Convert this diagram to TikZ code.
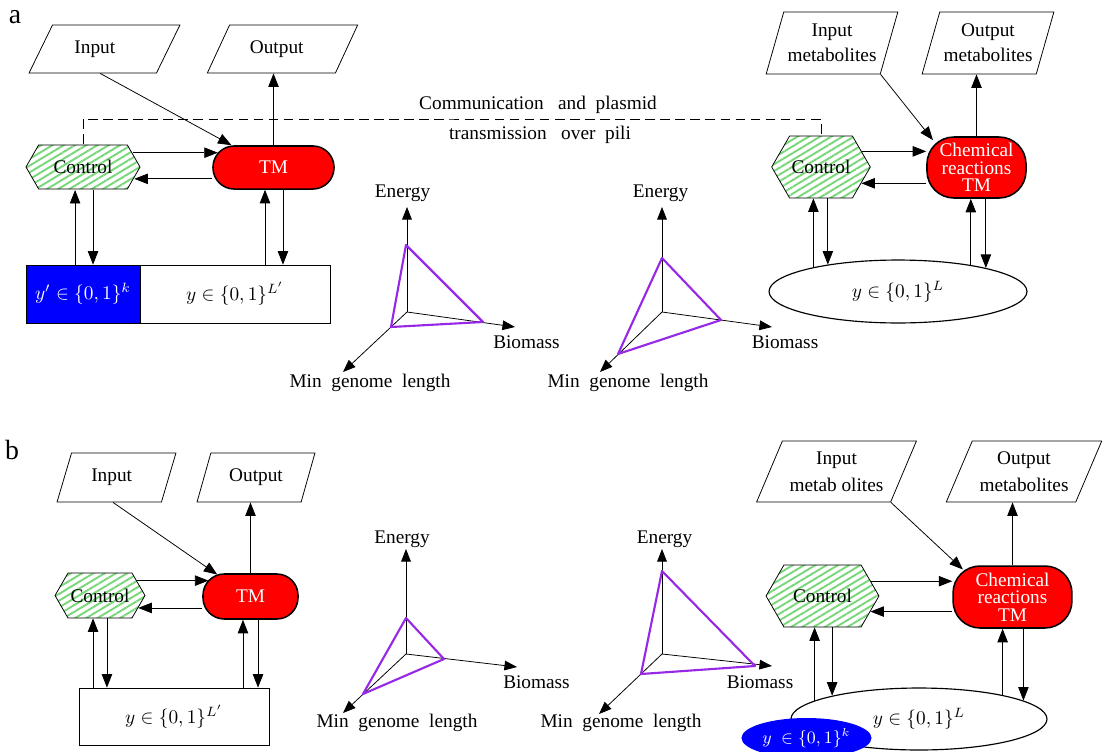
\documentclass[tikz,border=0pt]{standalone}
\usepackage[no-math]{fontspec}
\setmainfont{Liberation Serif}
\usetikzlibrary{shapes.geometric,shapes.symbols,patterns.meta,arrows.meta}
\definecolor{hatchgreen}{RGB}{120,215,120}
\definecolor{tripurple}{RGB}{150,40,230}
\pgfdeclarelayer{edgelayer}
\pgfdeclarelayer{nodelayer}
\pgfsetlayers{edgelayer,nodelayer,main}
\tikzset{font=\normalsize}
\tikzstyle{none}=[inner sep=0pt]
\tikzstyle{txt}=[inner sep=1pt]
\tikzstyle{panel}=[inner sep=0pt,font=\Large]
\tikzstyle{io}=[draw,trapezium,trapezium stretches=true,inner sep=1pt,align=center]
\tikzstyle{ctrl}=[draw,signal,signal to=east and west,signal pointer angle=120,inner sep=1pt,pattern={Lines[angle=31,distance=3pt,line width=1pt]},pattern color=hatchgreen]
\tikzstyle{tm}=[draw,thick,rectangle,rounded corners=11pt,fill=red,text=white,align=center,inner sep=1pt]
\tikzstyle{tape}=[draw,rectangle,inner sep=1pt]
\tikzstyle{genome}=[draw,semithick,ellipse,inner sep=1pt]
\tikzstyle{flow}=[-{Triangle[length=7pt,width=5.4pt]}]
\tikzstyle{ax}=[-{Triangle[length=6.5pt,width=5pt]}]
\tikzstyle{tri}=[draw=tripurple,line width=1.1pt,line join=round]
\tikzstyle{pili}=[dash pattern=on 5pt off 2.8pt]

\begin{document}
\begin{tikzpicture}[x=0.518pt,y=-0.518pt]
	\useasboundingbox (0,0) rectangle (1102,751);
	\begin{pgfonlayer}{nodelayer}
		% a: left cell
		\node [style=panel] (0) at (15,17) {a};
		\node [style=io, trapezium left angle=55, trapezium right angle=125, minimum width=78.2pt, minimum height=24.9pt] (1) at (104.5,49) {Input\hspace{10pt}};
		\node [style=io, trapezium left angle=55, trapezium right angle=125, minimum width=78.2pt, minimum height=24.9pt] (2) at (282.5,49) {Output\hspace{6pt}};
		\node [style=ctrl, minimum width=59.1pt, minimum height=22.8pt] (3) at (83,167) {Control};
		\node [style=tm, minimum width=62.7pt, minimum height=22.3pt] (4) at (273.5,167.5) {TM};
		\node [style=tape, fill=blue, text=white, minimum width=59.1pt, minimum height=30pt] (5) at (83,294) {$y'\in\{0,1\}^k$};
		\node [style=tape, minimum width=98.4pt, minimum height=30pt] (6) at (235,294) {$y\in\{0,1\}^{L'}$};
		\node [style=none] (7) at (450,119) {};
		\node [style=txt] (8) at (538,105) {Communication\ \ \ and\ \ plasmid};
		\node [style=txt] (9) at (540,135) {transmission\ \ \ over\ \ pili};
		% a: right cell
		\node [style=io, trapezium left angle=68, trapezium right angle=112, minimum width=68.4pt, minimum height=32.1pt] (10) at (832,43) {Input\\[1pt]metabolites};
		\node [style=io, trapezium left angle=68, trapezium right angle=112, minimum width=68.4pt, minimum height=32.1pt] (11) at (988,43) {Output\\[1pt]metabolites};
		\node [style=ctrl, minimum width=48.7pt, minimum height=32.1pt] (12) at (821,167) {Control};
		\node [style=tm, rounded corners=14pt, minimum width=51.3pt, minimum height=31.6pt] (13) at (976.5,167.5) {Chemical\\[-3pt]reactions\\[-3pt]TM};
		\node [style=genome, minimum width=133.6pt, minimum height=32.6pt] (14) at (898,291.5) {$y\in\{0,1\}^L$};
		% a: plots
		\node [style=none] (15) at (407,312) {};
		\node [style=none] (16) at (407,207) {};
		\node [style=none] (17) at (515,327) {};
		\node [style=none] (18) at (343,372) {};
		\node [style=txt] (19) at (402.5,193) {Energy};
		\node [style=txt] (20) at (526.5,342) {Biomass};
		\node [style=txt] (21) at (370,383) {Min\ \ genome\ \ length};
		\node [style=none] (22) at (406,245) {};
		\node [style=none] (23) at (483,322) {};
		\node [style=none] (24) at (391,327) {};
		\node [style=none] (25) at (662,312) {};
		\node [style=none] (26) at (662,207) {};
		\node [style=none] (27) at (772,327) {};
		\node [style=none] (28) at (600,372) {};
		\node [style=txt] (29) at (660.5,193) {Energy};
		\node [style=txt] (30) at (785,342) {Biomass};
		\node [style=txt] (31) at (628,383) {Min\ \ genome\ \ length};
		\node [style=none] (32) at (662,258) {};
		\node [style=none] (33) at (721,320) {};
		\node [style=none] (34) at (618,354) {};
		% b: left cell
		\node [style=panel] (35) at (12,450) {b};
		\node [style=io, trapezium left angle=67, trapezium right angle=113, minimum width=61.6pt, minimum height=25.4pt] (36) at (116.5,477.5) {Input\hspace{5pt}};
		\node [style=io, trapezium left angle=67, trapezium right angle=113, minimum width=61.1pt, minimum height=25.4pt] (37) at (256,477.5) {Output};
		\node [style=ctrl, minimum width=46.6pt, minimum height=23.3pt] (38) at (100,595.5) {Control};
		\node [style=tm, minimum width=49.2pt, minimum height=23.3pt] (39) at (250.5,596.5) {TM};
		\node [style=tape, minimum width=98.4pt, minimum height=29.5pt] (40) at (174,716.5) {$y\in\{0,1\}^{L'}$};
		% b: plots
		\node [style=none] (41) at (406,654) {};
		\node [style=none] (42) at (406,549) {};
		\node [style=none] (43) at (517,667) {};
		\node [style=none] (44) at (343,713) {};
		\node [style=txt] (45) at (402,539) {Energy};
		\node [style=txt] (46) at (536.5,682) {Biomass};
		\node [style=txt] (47) at (397,723) {Min\ \ genome\ \ length};
		\node [style=none] (48) at (406,618) {};
		\node [style=none] (49) at (444,659) {};
		\node [style=none] (50) at (363,694) {};
		\node [style=none] (51) at (662,654) {};
		\node [style=none] (52) at (662,549) {};
		\node [style=none] (53) at (772,666) {};
		\node [style=none] (54) at (599,714) {};
		\node [style=txt] (55) at (664.5,539) {Energy};
		\node [style=txt] (56) at (760,682) {Biomass};
		\node [style=txt] (57) at (621,723) {Min\ \ genome\ \ length};
		\node [style=none] (58) at (662,571) {};
		\node [style=none] (59) at (755,666) {};
		\node [style=none] (60) at (641,674) {};
		% b: right cell
		\node [style=io, trapezium left angle=62, trapezium right angle=118, minimum width=83.4pt, minimum height=31.6pt] (61) at (836.5,471.5) {Input\\[2pt]metab olites};
		\node [style=io, trapezium left angle=62, trapezium right angle=118, minimum width=80.8pt, minimum height=31.6pt] (62) at (1024,471.5) {Output\\[2pt]metabolites};
		\node [style=ctrl, minimum width=58.5pt, minimum height=32.1pt] (63) at (822.5,596) {Control};
		\node [style=tm, rounded corners=14pt, minimum width=61.6pt, minimum height=32.1pt] (64) at (1012.5,597) {Chemical\\[-3pt]reactions\\[-3pt]TM};
		\node [style=genome, minimum width=132.6pt, minimum height=32.1pt] (65) at (919,719) {$y\in\{0,1\}^L$};
		\node [style=genome, draw=none, fill=blue, text=white, font=\small, minimum width=62.7pt, minimum height=20.7pt] (66) at (806.5,738) {$y\ \in\{0,1\}^k$};
	\end{pgfonlayer}
	\begin{pgfonlayer}{edgelayer}
		\draw [style=flow] (3.16) to ([xshift=2.9pt]3.16 -| 4.west);
		\draw [style=flow] (3.347 -| 4.west) to (3.347);
		\draw [style=flow] (1.260) to ([xshift=10pt]4.north west);
		\draw [style=flow] (4.north) to (4.north |- 2.south);
		\draw [style=flow] ([xshift=-4.1pt]5.north) to ([xshift=-4.1pt]5.north |- 3.south);
		\draw [style=flow] ([xshift=5.2pt]3.south) to ([xshift=5.2pt]3.south |- 5.north);
		\draw [style=flow] ([xshift=-4.4pt]4.south |- 6.north) to ([xshift=-4.4pt]4.south);
		\draw [style=flow] ([xshift=4.9pt]4.south) to ([xshift=4.9pt]4.south |- 6.north);
		\draw [style=pili] (3.north) |- (7.center) -| (12.north);
		\draw [style=flow] (12.21) to (12.21 -| 13.west);
		\draw [style=flow] (12.338 -| 13.west) to (12.338);
		\draw [style=flow] (10.bottom right corner) to ([xshift=3.5pt,yshift=-2pt]13.north west);
		\draw [style=flow] (13.north) to (13.north |- 11.south);
		\draw [style=flow] (14.164) to (14.164 |- 12.south);
		\draw [style=flow] (14.159 |- 12.south) to (14.159);
		\draw [style=flow] (14.20) to (14.20 |- 13.south);
		\draw [style=flow] (14.15 |- 13.south) to (14.15);
		\draw [style=ax] (15.center) to (16.center);
		\draw [style=ax] (15.center) to (17.center);
		\draw [style=ax] (15.center) to (18.center);
		\draw [style=tri] (22.center) -- (23.center) -- (24.center) -- cycle;
		\draw [style=ax] (25.center) to (26.center);
		\draw [style=ax] (25.center) to (27.center);
		\draw [style=ax] (25.center) to (28.center);
		\draw [style=tri] (32.center) -- (33.center) -- (34.center) -- cycle;
		\draw [style=flow] (38.22) to ([xshift=3.2pt]38.22 -| 39.west);
		\draw [style=flow] (38.342 -| 39.west) to (38.342);
		\draw [style=flow] (36.262) to ([xshift=7.8pt,yshift=-0.7pt]39.north west);
		\draw [style=flow] (39.north) to (39.north |- 37.south);
		\draw [style=flow] ([xshift=-3.6pt]38.south |- 40.north) to ([xshift=-3.6pt]38.south);
		\draw [style=flow] ([xshift=3.6pt]38.south) to ([xshift=3.6pt]38.south |- 40.north);
		\draw [style=flow] ([xshift=-3.9pt]39.south |- 40.north) to ([xshift=-3.9pt]39.south);
		\draw [style=flow] ([xshift=3.9pt]39.south) to ([xshift=3.9pt]39.south |- 40.north);
		\draw [style=ax] (41.center) to (42.center);
		\draw [style=ax] (41.center) to (43.center);
		\draw [style=ax] (41.center) to (44.center);
		\draw [style=tri] (48.center) -- (49.center) -- (50.center) -- cycle;
		\draw [style=ax] (51.center) to (52.center);
		\draw [style=ax] (51.center) to (53.center);
		\draw [style=ax] (51.center) to (54.center);
		\draw [style=tri] (58.center) -- (59.center) -- (60.center) -- cycle;
		\draw [style=flow] (63.17) to (63.17 -| 64.west);
		\draw [style=flow] (63.342 -| 64.west) to (63.342);
		\draw [style=flow] (61.bottom right corner) to ([xshift=5.5pt,yshift=-2.2pt]64.north west);
		\draw [style=flow] (64.north) to (64.north |- 62.south);
		\draw [style=flow] (65.170) to (65.170 |- 63.south);
		\draw [style=flow] (65.165 |- 63.south) to (65.165);
		\draw [style=flow] (65.16) to (65.16 |- 64.south);
		\draw [style=flow] (65.10 |- 64.south) to (65.10);
	\end{pgfonlayer}
\end{tikzpicture}
\end{document}
